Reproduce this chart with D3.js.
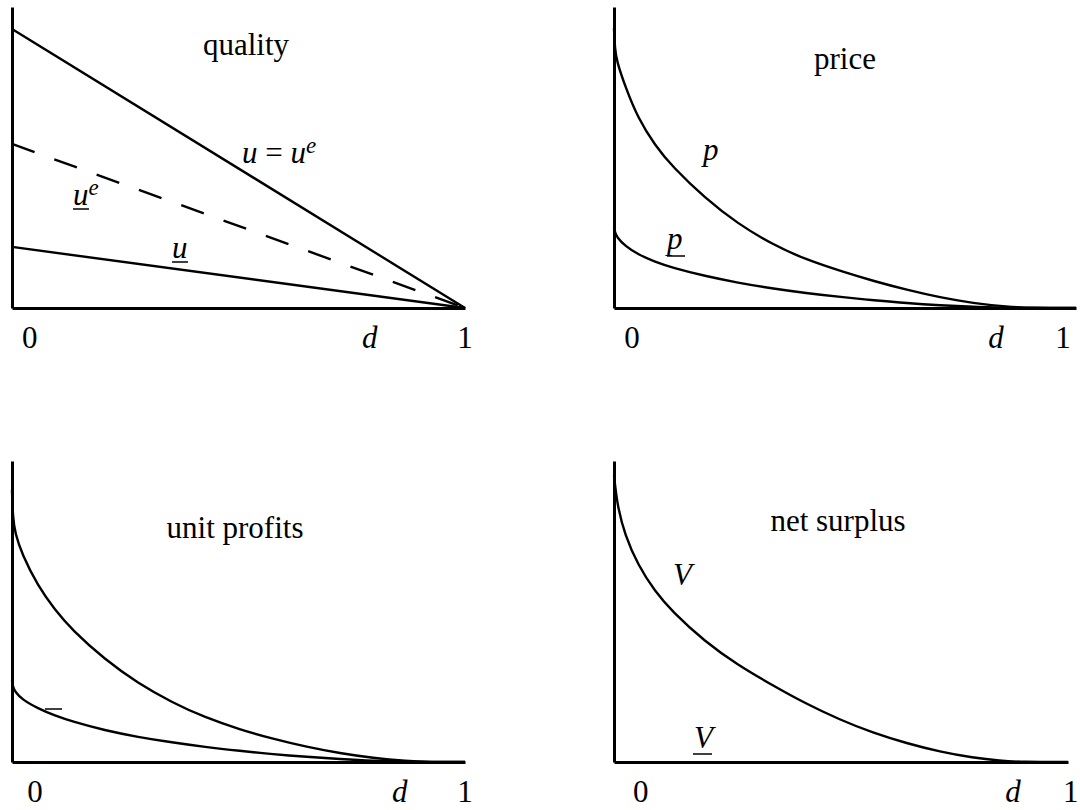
<!DOCTYPE html>
<html><head><meta charset="utf-8">
<script src="https://cdn.jsdelivr.net/npm/d3@7"></script>
<style>body{margin:0;background:#fff} svg{display:block}</style>
</head><body><svg id="c" width="1080" height="810"></svg>
<script>
// ---------- data ----------
const qualityX = [0, 1];
const qualityUpper = [0.927, 0];   // u = u^e
const qualityDashed = [0.545, 0];  // u^e (underlined)
const qualityLower = [0.203, 0];   // u (underlined)

const priceX =     [0, 0.002, 0.006, 0.024, 0.052, 0.089, 0.126, 0.197, 0.268, 0.342, 0.413, 0.5, 0.561, 0.634, 0.706, 0.777, 0.851, 0.907, 1];
const priceUpper = [0.93, 0.86, 0.82, 0.737, 0.63, 0.54, 0.47, 0.365, 0.28, 0.212, 0.162, 0.118, 0.09, 0.06, 0.035, 0.016, 0.004, 0, 0];
const priceLower = [0.27, 0.252, 0.236, 0.206, 0.178, 0.153, 0.134, 0.106, 0.084, 0.065, 0.05, 0.035, 0.026, 0.016, 0.009, 0.004, 0.001, 0, 0];

const profitX =     [0, 0.002, 0.007, 0.022, 0.057, 0.095, 0.132, 0.205, 0.278, 0.353, 0.426, 0.503, 0.576, 0.651, 0.724, 0.797, 0.872, 0.92, 1];
const profitUpper = [0.904, 0.81, 0.76, 0.69, 0.585, 0.505, 0.44, 0.34, 0.262, 0.198, 0.148, 0.108, 0.077, 0.05, 0.029, 0.013, 0.003, 0, 0];
const profitLower = [0.272, 0.25, 0.233, 0.208, 0.178, 0.154, 0.135, 0.105, 0.083, 0.065, 0.05, 0.037, 0.026, 0.017, 0.01, 0.004, 0.001, 0, 0];

const surplusX =     [0, 0.007, 0.024, 0.053, 0.09, 0.128, 0.2, 0.273, 0.348, 0.421, 0.498, 0.57, 0.645, 0.718, 0.791, 0.85, 0.9, 1];
const surplusUpper = [0.953, 0.854, 0.754, 0.654, 0.567, 0.5, 0.4, 0.322, 0.256, 0.195, 0.14, 0.097, 0.062, 0.034, 0.014, 0.004, 0, 0];

const panelTitles = ["quality", "price", "unit profits", "net surplus"];
const xTickLabels = ["0", "d", "1"];
const xTickValues = [[0.039, 0.79, 1.0], [0.039, 0.827, 0.972], [0.051, 0.856, 1.0], [0.059, 0.879, 1.006]];

// ---------- layout ----------
const FONT = "'Liberation Serif', 'Times New Roman', serif";
const FS = 31;
const panels = [
  {left: 12,  right: 465,  base: 308, top: 7,   titleX: 246, titleY: 55,  tickY: 348},
  {left: 614, right: 1076, base: 308, top: 7,   titleX: 845, titleY: 69,  tickY: 348},
  {left: 12,  right: 465,  base: 762, top: 461, titleX: 235, titleY: 538, tickY: 802},
  {left: 614, right: 1068, base: 762, top: 461, titleX: 838, titleY: 531, tickY: 802}
];

const svg = d3.select("#c");

const series = [
  [{x: qualityX, y: qualityUpper}, {x: qualityX, y: qualityDashed, dash: "24,21"}, {x: qualityX, y: qualityLower}],
  [{x: priceX, y: priceUpper}, {x: priceX, y: priceLower}],
  [{x: profitX, y: profitUpper}, {x: profitX, y: profitLower}],
  [{x: surplusX, y: surplusUpper}]
];

panels.forEach((p, i) => {
  const g = svg.append("g");
  const x = d3.scaleLinear().domain([0, 1]).range([p.left, p.right]);
  const y = d3.scaleLinear().domain([0, 1]).range([p.base, p.top]);

  // curves
  series[i].forEach(s => {
    const pts = s.x.map((v, k) => [v, s.y[k]]);
    const line = d3.line().x(d => x(d[0])).y(d => y(d[1]))
      .curve(s.x.length > 2 ? d3.curveBasis : d3.curveLinear);
    g.append("path").attr("d", line(pts))
      .attr("fill", "none").attr("stroke", "#000").attr("stroke-width", 2.4)
      .attr("stroke-dasharray", s.dash || null);
  });

  // axes (domain lines only)
  const xa = g.append("g").attr("transform", `translate(0,${p.base})`)
    .call(d3.axisBottom(x).tickValues([]).tickSizeOuter(0));
  const ya = g.append("g").attr("transform", `translate(${p.left},0)`)
    .call(d3.axisLeft(y).tickValues([]).tickSizeOuter(0));
  [xa, ya].forEach(a => a.select(".domain").attr("stroke", "#000").attr("stroke-width", 3));

  // tick labels
  xTickLabels.forEach((t, k) => {
    g.append("text").attr("x", x(xTickValues[i][k])).attr("y", p.tickY)
      .attr("text-anchor", "middle").attr("font-family", FONT).attr("font-size", FS)
      .attr("font-style", t === "d" ? "italic" : "normal").text(t);
  });

  // title
  g.append("text").attr("x", p.titleX).attr("y", p.titleY)
    .attr("text-anchor", "middle").attr("font-family", FONT).attr("font-size", FS)
    .text(panelTitles[i]);
});

// ---------- curve annotations ----------
function label(xp, yp, parts) {
  const t = svg.append("text").attr("x", xp).attr("y", yp)
    .attr("font-family", FONT).attr("font-size", FS);
  parts.forEach(pt => {
    const ts = t.append("tspan").text(pt.t);
    if (pt.i) ts.attr("font-style", "italic");
    if (pt.sup) ts.attr("font-size", 23).attr("dy", -10);
  });
  return t;
}
function uline(x1, x2, yy) {
  svg.append("line").attr("x1", x1).attr("x2", x2).attr("y1", yy).attr("y2", yy)
    .attr("stroke", "#000").attr("stroke-width", 1.5);
}

// quality
label(242, 163, [{t: "u", i: 1}, {t: " = "}, {t: "u", i: 1}, {t: "e", i: 1, sup: 1}]);
label(73, 205, [{t: "u", i: 1}, {t: "e", i: 1, sup: 1}]);
uline(73, 89, 209);
label(172, 258, [{t: "u", i: 1}]);
uline(172, 188, 262);

// price
label(703, 160, [{t: "p", i: 1}]);
label(667, 249, [{t: "p", i: 1}]);
uline(667, 685, 256);

// unit profits: stray underline mark
uline(45, 62, 709);

// net surplus
label(673, 585, [{t: "V", i: 1}]);
label(694, 748, [{t: "V", i: 1}]);
uline(693, 712, 754);
</script></body></html>
